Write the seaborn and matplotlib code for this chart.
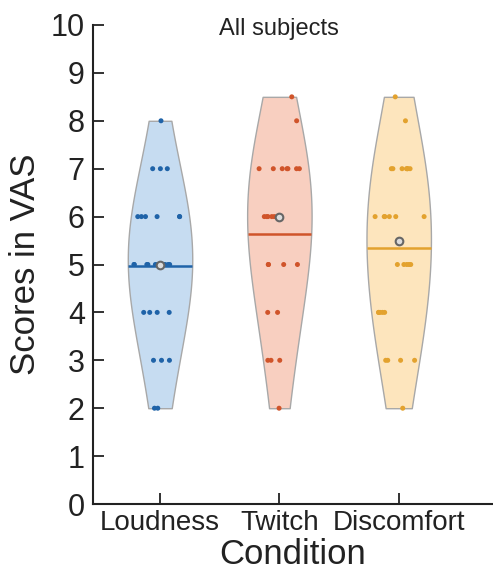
import numpy as np
import pandas as pd
import matplotlib
matplotlib.use("Agg")
import matplotlib.pyplot as plt
import matplotlib.transforms as mtransforms
import seaborn as sns

conditions = ["Loudness", "Twitch", "Discomfort"]
loudness_scores = [8, 7, 7, 7, 6, 6, 6, 6, 6, 6, 5, 5, 5, 5, 5, 5, 5, 5, 5, 5,
                   4, 4, 4, 4, 3, 3, 3, 2, 2]
twitch_scores = [8.5, 8, 7, 7, 7, 7, 7, 7, 7, 6, 6, 6, 6, 6, 6, 6,
                 5, 5, 5, 5, 4, 4, 3, 3, 3, 2]
discomfort_scores = [8.5, 8, 7, 7, 7, 7, 7, 7, 7, 6, 6, 6, 6, 6, 6,
                     5, 5, 5, 5, 5, 4, 4, 4, 4, 4, 3, 3, 3, 3, 2]
fill_colors = ["#c6dcf1", "#f8cfc0", "#fde5bd"]
point_colors = ["#1f63a8", "#d0542a", "#e3a22e"]
y_ticks = list(range(0, 11))

all_scores = [loudness_scores, twitch_scores, discomfort_scores]
df = pd.DataFrame({
    "Condition": np.repeat(conditions, [len(s) for s in all_scores]),
    "Score": np.concatenate(all_scores),
})

sns.set_theme(style="white")
plt.rcParams["font.family"] = ["Liberation Sans", "DejaVu Sans"]

fig = plt.figure(figsize=(4.93, 5.81), dpi=100)
ax = fig.add_axes([0.189, 0.1325, 0.811, 0.8245])

JIT = 0.2
sns.violinplot(data=df, x="Condition", y="Score", hue="Condition",
               order=conditions, hue_order=conditions, palette=fill_colors,
               inner=None, cut=0, density_norm="width", width=0.54,
               bw_adjust=2.0, linewidth=1.0, linecolor="#a8a8a8",
               legend=False, ax=ax, saturation=1)

polys = list(ax.collections)
n_poly = len(polys)

np.random.seed(3)
sns.stripplot(data=df, x="Condition", y="Score", hue="Condition",
              order=conditions, hue_order=conditions, palette=point_colors,
              jitter=JIT, size=3.6, linewidth=0, legend=False, ax=ax, zorder=3)
strips = list(ax.collections)[n_poly:]


def half_width(i, poly, y):
    verts = poly.get_paths()[0].vertices
    right = verts[verts[:, 0] > i]
    order = np.argsort(right[:, 1])
    return np.interp(y, right[order, 1], right[order, 0]) - i


for i, (scores, poly) in enumerate(zip(all_scores, polys)):
    # scale the strip jitter to the violin's width at each point's level
    for sc in strips:
        offs = sc.get_offsets()
        if len(offs) == 0:
            continue
        if abs(np.mean(offs[:, 0]) - i) < 0.3:
            hw = half_width(i, poly, offs[:, 1])
            new_x = i + (offs[:, 0] - i) / JIT * hw * 0.85
            sc.set_offsets(np.column_stack([new_x, offs[:, 1]]))
    m = np.mean(scores)
    hw = half_width(i, poly, m)
    ax.hlines(m, i - hw, i + hw, color=point_colors[i], lw=1.8, zorder=4)
    med = np.median(scores)
    ax.plot(i, med, "o", ms=5.5, mfc="#dcdcdc", mec="#666666", mew=1.5,
            zorder=6)

ax.set_ylim(0, 10)
ax.set_xlim(-0.56, 2.79)
ax.set_yticks(y_ticks)
ax.set_yticklabels([str(t) for t in y_ticks])
ax.tick_params(axis="both", direction="in", length=8, width=1.3,
               color="#222222", left=True, bottom=True)
ax.tick_params(axis="y", labelsize=22, pad=6)
ax.tick_params(axis="x", labelsize=20, pad=4)
for s in ["top", "right"]:
    ax.spines[s].set_visible(False)
for s in ["left", "bottom"]:
    ax.spines[s].set_color("#222222")
    ax.spines[s].set_linewidth(1.5)
ax.set_xlabel("Condition", fontsize=25, color="#222222", labelpad=2)
ax.set_ylabel("Scores in VAS", fontsize=25, color="#222222", labelpad=6)
trans = mtransforms.offset_copy(ax.transData, fig=fig, x=0, y=7, units="dots")
ax.text(1.0, 10.0, "All subjects", ha="center", va="top", fontsize=17,
        color="#222222", transform=trans)
for lbl in ax.get_xticklabels() + ax.get_yticklabels():
    lbl.set_color("#222222")

fig.savefig("out.png", dpi=100)
